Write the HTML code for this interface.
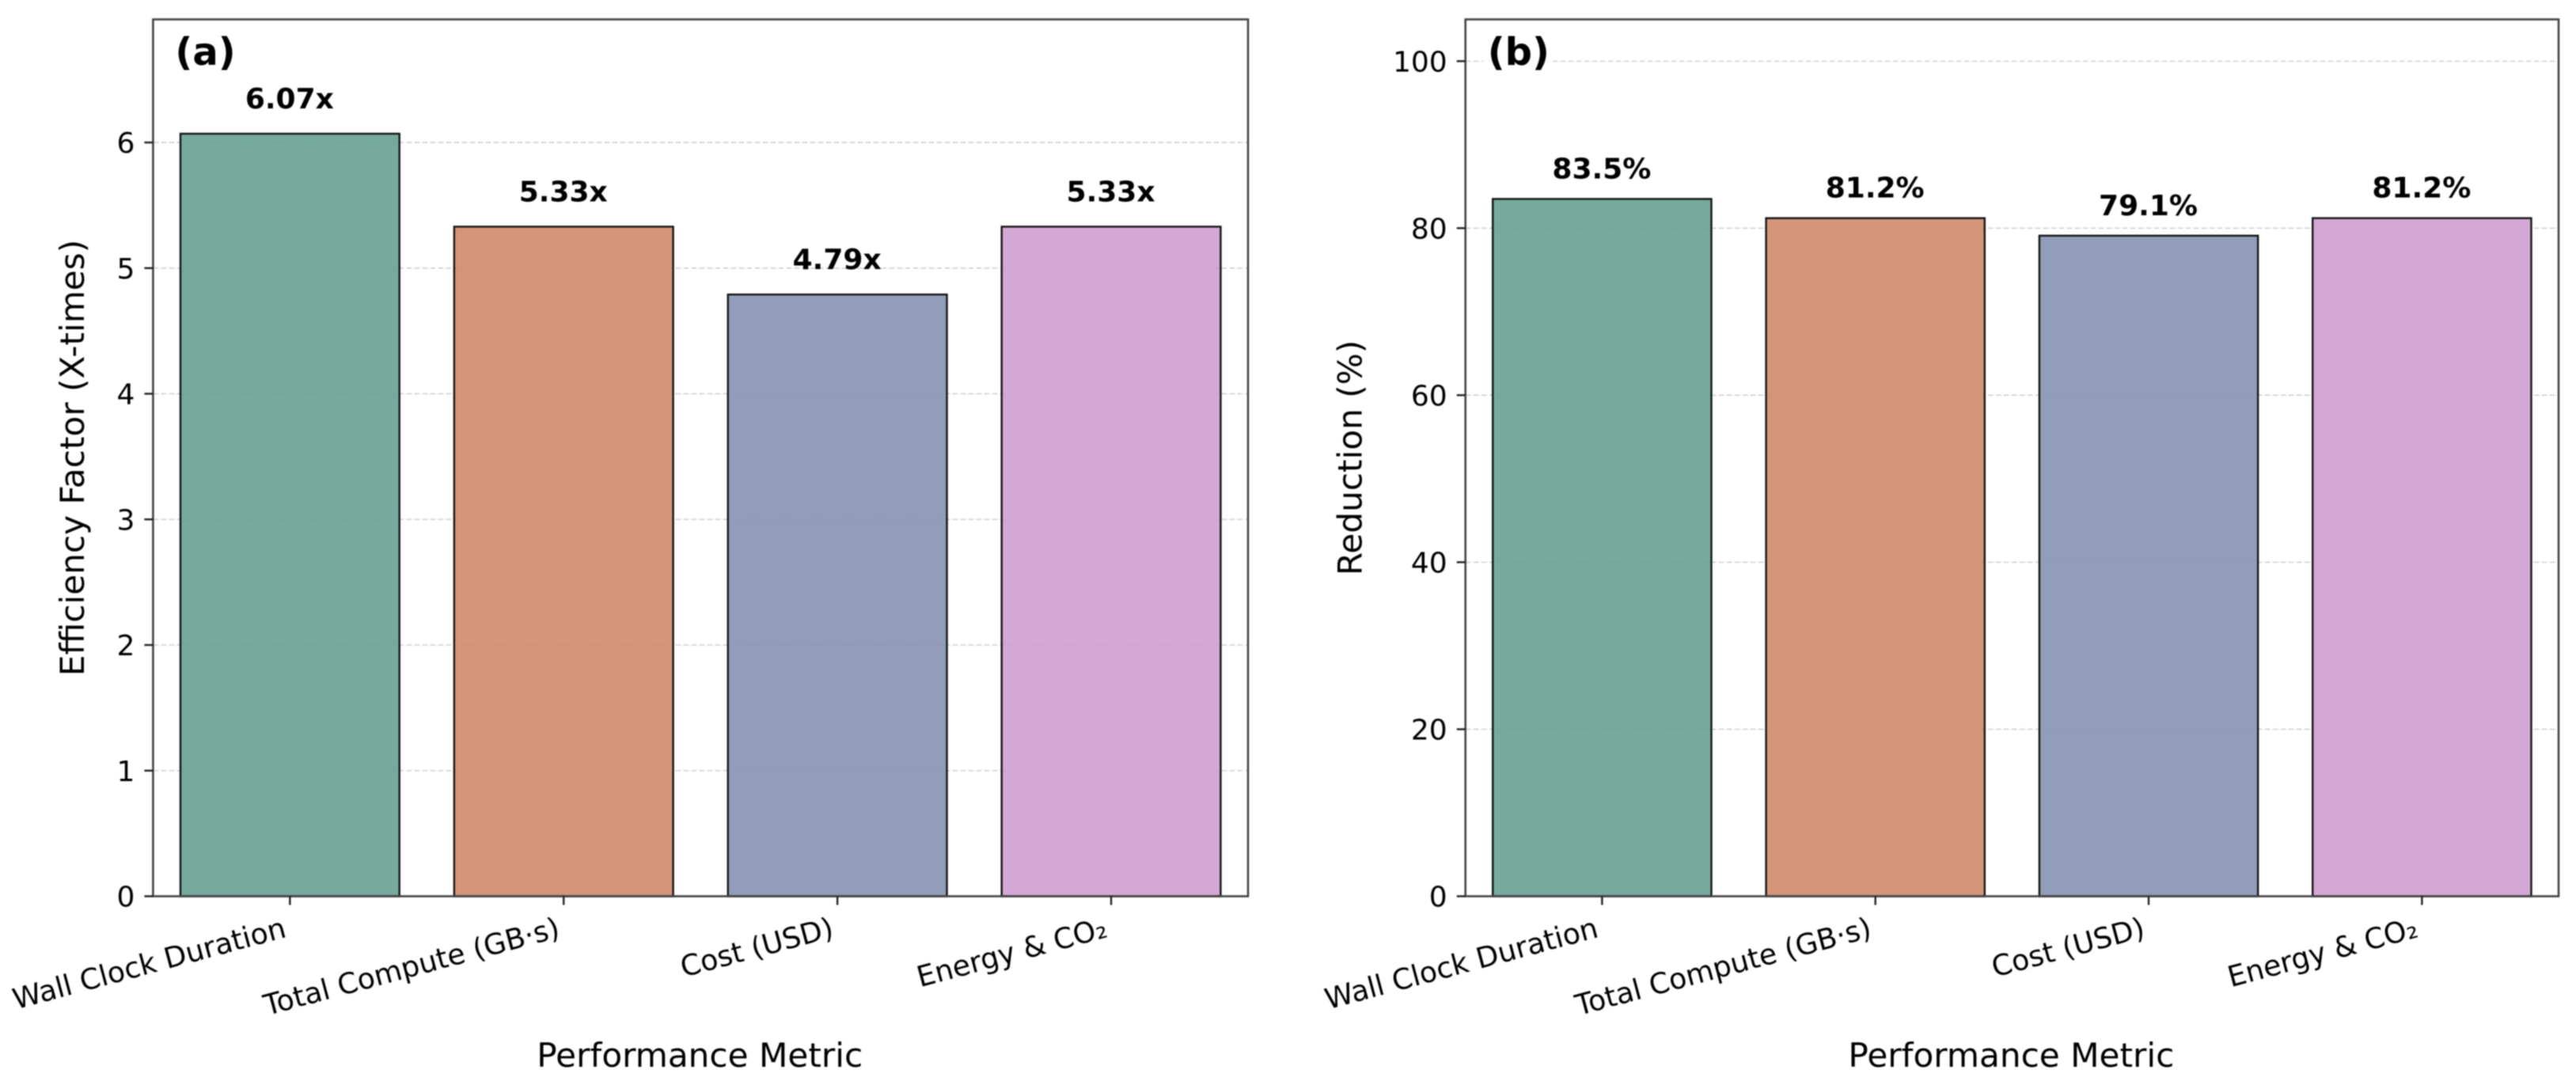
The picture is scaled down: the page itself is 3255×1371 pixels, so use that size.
<!DOCTYPE html>
<html lang="en">
<head>
<meta charset="utf-8">
<title>Efficiency factor and reduction by performance metric</title>
<style>
html,body{margin:0;padding:0;background:#fff;width:3255px;height:1371px;overflow:hidden}
svg{display:block;filter:blur(0.7px)}
text{font-family:"DejaVu Sans","Liberation Sans",sans-serif;fill:#000}
</style>
</head>
<body>
<svg id="chart" xmlns="http://www.w3.org/2000/svg" width="3255" height="1371" viewBox="0 0 3255 1371"></svg>
<script>
const categories = ["Wall Clock Duration", "Total Compute (GB\u00b7s)", "Cost (USD)", "Energy & CO\u2082"];
const efficiencyValues = [6.07, 5.33, 4.79, 5.33];
const reductionValues = [83.5, 81.2, 79.1, 81.2];
const efficiencyTicks = [0, 1, 2, 3, 4, 5, 6];
const reductionTicks = [0, 20, 40, 60, 80, 100];
const barColors = ["#66a192", "#d0896a", "#8692b1", "#d09dd0"];

const NS = "http://www.w3.org/2000/svg";
const root = document.getElementById("chart");

function make(parent, tag, attrs, content) {
  const el = document.createElementNS(NS, tag);
  for (const k in attrs) el.setAttribute(k, attrs[k]);
  if (content !== undefined) el.textContent = content;
  parent.appendChild(el);
  return el;
}

function drawPanel(cfg) {
  const g = make(root, "g", {});
  
  

  const xScale = i => cfg.left + (i - (-0.5)) / 4 * (cfg.right - cfg.left);
  const yScale = v => cfg.bottom - (v / cfg.yMax) * (cfg.bottom - cfg.top);

  make(g, "rect", {x: cfg.left, y: cfg.top, width: cfg.right - cfg.left, height: cfg.bottom - cfg.top, fill: "#fff"});

  cfg.ticks.forEach(t => {
    if (t === 0) return;
    const grid = make(g, "line", {x1: cfg.left, x2: cfg.right, y1: yScale(t), y2: yScale(t), stroke: "#d2d2d2", "stroke-width": 1.6, "stroke-dasharray": "7 3"});
    
    
  });

  cfg.values.forEach((v, i) => {
    const cx = xScale(i);
    const w = (cfg.right - cfg.left) / 4 * 0.8;
    const bar = make(g, "rect", {x: cx - w / 2, y: yScale(v), width: w, height: yScale(0) - yScale(v), fill: barColors[i], "fill-opacity": 0.9, stroke: "#151515", "stroke-width": 2.4});
    
    

    const label = make(g, "text", {x: cx - 0.5, y: yScale(v) - cfg.valueGap, "text-anchor": "middle", "font-size": 36, "font-weight": "bold"}, cfg.format(v));
    
    
  });

  const mask = make(g, "rect", {x: cfg.left + 22, y: 38, width: 88, height: 58, fill: "#fff", "fill-opacity": 0.8});
  
  

  const frame = make(g, "rect", {x: cfg.left, y: cfg.top, width: cfg.right - cfg.left, height: cfg.bottom - cfg.top, fill: "none", stroke: "#444", "stroke-width": 2.6});
  
  

  cfg.ticks.forEach(t => {
    const y = yScale(t);
    const mark = make(g, "line", {x1: cfg.left - 11, x2: cfg.left, y1: y, y2: y, stroke: "#222", "stroke-width": 2.4});
    
    
    const lab = make(g, "text", {x: cfg.left - 23, y: y + 13, "text-anchor": "end", "font-size": 36}, String(t));
    
    
  });

  categories.forEach((c, i) => {
    const x = xScale(i);
    const mark = make(g, "line", {x1: x, x2: x, y1: cfg.bottom, y2: cfg.bottom + 11, stroke: "#222", "stroke-width": 2.4});
    
    
    const ax = x - 3, ay = cfg.bottom + 51;
    const lab = make(g, "text", {x: ax, y: ay, "text-anchor": "end", "font-size": 36.3, transform: "rotate(-15 " + ax + " " + ay + ")"}, c);
    
    
  });

  const xt = make(g, "text", {x: (cfg.left + cfg.right) / 2 - 1, y: 1348, "text-anchor": "middle", "font-size": 42.2}, "Performance Metric");
  
  

  const yc = (cfg.top + cfg.bottom) / 2;
  const yt = make(g, "text", {x: cfg.yTitleX, y: yc, "text-anchor": "middle", "font-size": 42.2, transform: "rotate(-90 " + cfg.yTitleX + " " + yc + ")"}, cfg.yTitle);
  
  

  const pl = make(g, "text", {x: cfg.left + 28, y: 82, "font-size": 48, "font-weight": "bold"}, cfg.panelLabel);
  
  
}

drawPanel({
  name: "efficiency", panelLabel: "(a)", yTitle: "Efficiency Factor (X-times)", yTitleX: 106,
  left: 193.4, right: 1577, top: 24.5, bottom: 1132.5, yMax: 6.98,
  values: efficiencyValues, ticks: efficiencyTicks, valueGap: 32,
  format: v => v.toFixed(2) + "x"
});
drawPanel({
  name: "reduction", panelLabel: "(b)", yTitle: "Reduction (%)", yTitleX: 1720.5,
  left: 1851.7, right: 3233, top: 24.5, bottom: 1132.5, yMax: 105,
  values: reductionValues, ticks: reductionTicks, valueGap: 26,
  format: v => v.toFixed(1) + "%"
});
</script>
</body>
</html>
